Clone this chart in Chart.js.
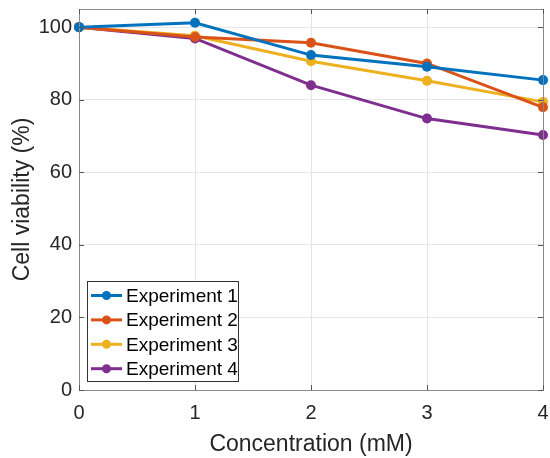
<!DOCTYPE html>
<html>
<head>
<meta charset="utf-8">
<script src="https://cdn.jsdelivr.net/npm/chart.js@4"></script>
<style>
  html, body { margin: 0; padding: 0; background: #fff; }
  #wrap { width: 550px; height: 458px; }
</style>
</head>
<body>
<div id="wrap"><canvas id="chart"></canvas></div>
<script>
// data
const concentrations = [0, 1, 2, 3, 4];
const exp1 = [100, 101.2, 92.3, 89.1, 85.4];
const exp2 = [100, 97.3, 95.7, 90.0, 77.9];
const exp3 = [100, 97.6, 90.6, 85.2, 79.4];
const exp4 = [100, 96.9, 84.0, 74.8, 70.3];
const seriesNames = ['Experiment 1', 'Experiment 2', 'Experiment 3', 'Experiment 4'];
const yTicks = [0, 20, 40, 60, 80, 100];

const FONT = 'Arial, "Liberation Sans", Helvetica, sans-serif';
const TEXT = '#262626';
const colors = ['#0072BD', '#D95319', '#EDB120', '#7E2F8E'];

const toPoints = arr => arr.map((v, i) => ({ x: concentrations[i], y: v }));

// box around the axes + inward ticks, MATLAB style
const boxPlugin = {
  id: 'box',
  afterDraw(chart) {
    const { ctx, chartArea: a, scales: { x, y } } = chart;
    ctx.save();
    ctx.strokeStyle = '#8a8a8a';
    ctx.lineWidth = 1;
    ctx.strokeRect(a.left + 0.5, a.top + 0.5, a.right - a.left, a.bottom - a.top);
    ctx.strokeStyle = '#555';
    ctx.beginPath();
    concentrations.forEach(v => {
      const px = Math.round(x.getPixelForValue(v)) + 0.5;
      ctx.moveTo(px, a.bottom); ctx.lineTo(px, a.bottom - 5);
      ctx.moveTo(px, a.top); ctx.lineTo(px, a.top + 5);
    });
    yTicks.forEach(v => {
      const py = Math.round(y.getPixelForValue(v)) + 0.5;
      ctx.moveTo(a.left, py); ctx.lineTo(a.left + 5, py);
      ctx.moveTo(a.right, py); ctx.lineTo(a.right - 5, py);
    });
    ctx.stroke();
    ctx.restore();
  }
};

// legend drawn inside the plot, lower left
const legendPlugin = {
  id: 'insideLegend',
  afterDraw(chart) {
    const { ctx, chartArea: a } = chart;
    const bx = a.left + 8, by = a.bottom - 109, bw = 151, bh = 100;
    ctx.save();
    ctx.fillStyle = '#fff';
    ctx.fillRect(bx, by, bw, bh);
    ctx.strokeStyle = '#333';
    ctx.lineWidth = 1;
    ctx.strokeRect(bx + 0.5, by + 0.5, bw, bh);
    ctx.font = '19px ' + FONT;
    ctx.textBaseline = 'middle';
    chart.data.datasets.forEach((ds, i) => {
      const cy = by + 14.5 + i * 24.4;
      ctx.strokeStyle = ds.borderColor;
      ctx.lineWidth = 3;
      ctx.beginPath();
      ctx.moveTo(bx + 4, cy); ctx.lineTo(bx + 35, cy);
      ctx.stroke();
      ctx.fillStyle = ds.borderColor;
      ctx.beginPath();
      ctx.arc(bx + 19.5, cy, 4.5, 0, Math.PI * 2);
      ctx.fill();
      ctx.fillStyle = '#000';
      ctx.fillText(ds.label, bx + 39, cy + 1);
    });
    ctx.restore();
  }
};

new Chart(document.getElementById('chart'), {
  type: 'line',
  data: {
    datasets: [exp1, exp2, exp3, exp4].map((d, i) => ({
      label: seriesNames[i],
      data: toPoints(d),
      borderColor: colors[i],
      backgroundColor: colors[i],
      borderWidth: 3,
      pointRadius: 5,
      pointBorderWidth: 0,
      tension: 0,
      clip: false,
    })),
  },
  options: {
    responsive: true,
    maintainAspectRatio: false,
    animation: false,
    layout: { padding: { top: 9, right: 7, left: 0, bottom: 0 } },
    plugins: {
      legend: { display: false },
      tooltip: { enabled: false },
    },
    scales: {
      x: {
        type: 'linear',
        min: 0, max: 4,
        border: { display: false },
        grid: { color: '#e6e6e6', drawTicks: false },
        ticks: { stepSize: 1, color: TEXT, font: { family: FONT, size: 20 }, padding: 11, maxRotation: 0 },
        title: { display: true, text: 'Concentration (mM)', color: TEXT, font: { family: FONT, size: 23 }, padding: { top: 0, bottom: 0 } },
        afterFit: s => { s.height = 68; s.paddingLeft = 0; s.paddingRight = 0; },
      },
      y: {
        min: 0, max: 105,
        border: { display: false },
        grid: { color: '#e6e6e6', drawTicks: false },
        afterBuildTicks: s => { s.ticks = yTicks.map(v => ({ value: v })); },
        ticks: { color: TEXT, font: { family: FONT, size: 20 }, padding: 7 },
        title: { display: true, text: 'Cell viability (%)', color: TEXT, font: { family: FONT, size: 23 }, padding: { top: 9, bottom: 0 } },
        afterFit: s => { s.width = 79; s.paddingTop = 0; s.paddingBottom = 0; },
      },
    },
  },
  plugins: [boxPlugin, legendPlugin],
});
</script>
</body>
</html>
